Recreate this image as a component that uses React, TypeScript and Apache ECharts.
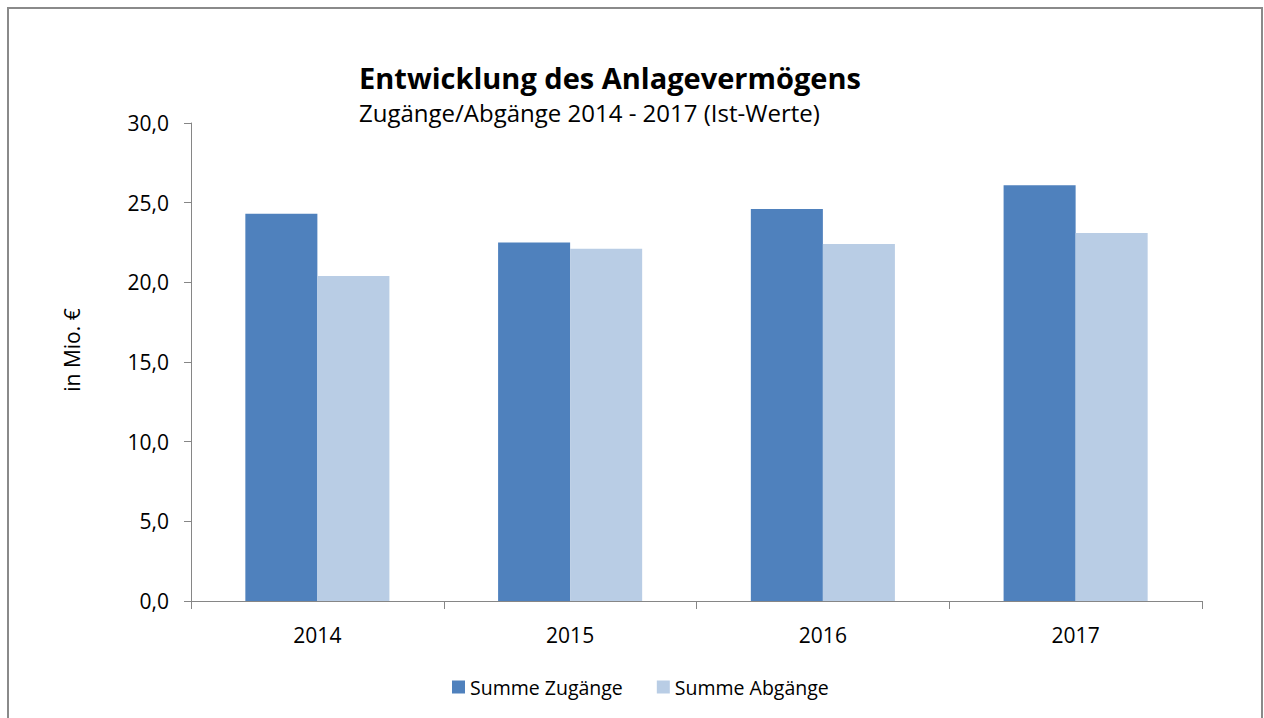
import React, { useEffect, useRef } from "react";
import * as echarts from "echarts";

const categories = ["2014", "2015", "2016", "2017"];
const zugaenge = [24.3, 22.5, 24.6, 26.1];
const abgaenge = [20.4, 22.1, 22.4, 23.1];
const seriesNames = ["Summe Zugänge", "Summe Abgänge"];
const titleText = "Entwicklung des Anlagevermögens";
const subtitleText = "Zugänge/Abgänge 2014 - 2017 (Ist-Werte)";
const yAxisName = "in Mio. €";

const FONT = "'Open Sans', 'Noto Sans', sans-serif";

export default function App() {
  const ref = useRef<HTMLDivElement>(null);
  useEffect(() => {
    if (!ref.current) return;
    const chart = echarts.init(ref.current, undefined, { renderer: "svg" });
    chart.setOption({
      animation: false,
      backgroundColor: "#ffffff",
      textStyle: { fontFamily: FONT },
      title: {
        text: titleText,
        subtext: subtitleText,
        left: 359,
        top: 63,
        padding: 0,
        itemGap: 8,
        textStyle: { fontFamily: FONT, fontSize: 29, fontWeight: "bold", color: "#000" },
        subtextStyle: { fontFamily: FONT, fontSize: 24, color: "#000" },
      },
      graphic: [
        {
          type: "rect",
          shape: { x: 8, y: 8, width: 1254, height: 730 },
          style: { fill: "none", stroke: "#8a8a8a", lineWidth: 2 },
          silent: true,
        },
        {
          type: "text",
          x: 72,
          y: 350,
          rotation: Math.PI / 2,
          style: {
            text: yAxisName,
            fontFamily: FONT,
            fontSize: 21,
            fill: "#000",
            align: "center",
            verticalAlign: "middle",
          },
        },
      ],
      legend: {
        data: seriesNames,
        left: 447,
        top: 672,
        itemWidth: 13,
        itemHeight: 13,
        itemGap: 34,
        icon: "rect",
        textStyle: { fontFamily: FONT, fontSize: 19.5, color: "#000" },
      },
      grid: { left: 191, right: 62, top: 123, bottom: 117, containLabel: false },
      xAxis: {
        type: "category",
        data: categories,
        axisLine: { lineStyle: { color: "#868686", width: 1 } },
        axisTick: { show: true, length: 8, alignWithLabel: false, lineStyle: { color: "#868686" } },
        axisLabel: { margin: 23, fontFamily: FONT, fontSize: 21, color: "#000" },
      },
      yAxis: {
        type: "value",
        min: 0,
        max: 30,
        interval: 5,
        axisLine: { show: true, lineStyle: { color: "#868686", width: 1 } },
        axisTick: { show: true, length: 7, lineStyle: { color: "#868686" } },
        splitLine: { show: false },
        axisLabel: {
          margin: 22,
          fontFamily: FONT,
          fontSize: 21,
          color: "#000",
          formatter: (v: number) => v.toFixed(1).replace(".", ","),
        },
      },
      series: [
        {
          name: seriesNames[0],
          type: "bar",
          data: zugaenge,
          barGap: "0%",
          barCategoryGap: "43%",
          itemStyle: { color: "#4F81BD" },
        },
        {
          name: seriesNames[1],
          type: "bar",
          data: abgaenge,
          barGap: "0%",
          barCategoryGap: "43%",
          itemStyle: { color: "#B9CDE5" },
        },
      ],
    });
    return () => chart.dispose();
  }, []);
  return (
    <div
      ref={ref}
      style={{ position: "absolute", left: 0, top: 0, width: 1264, height: 718 }}
    />
  );
}
